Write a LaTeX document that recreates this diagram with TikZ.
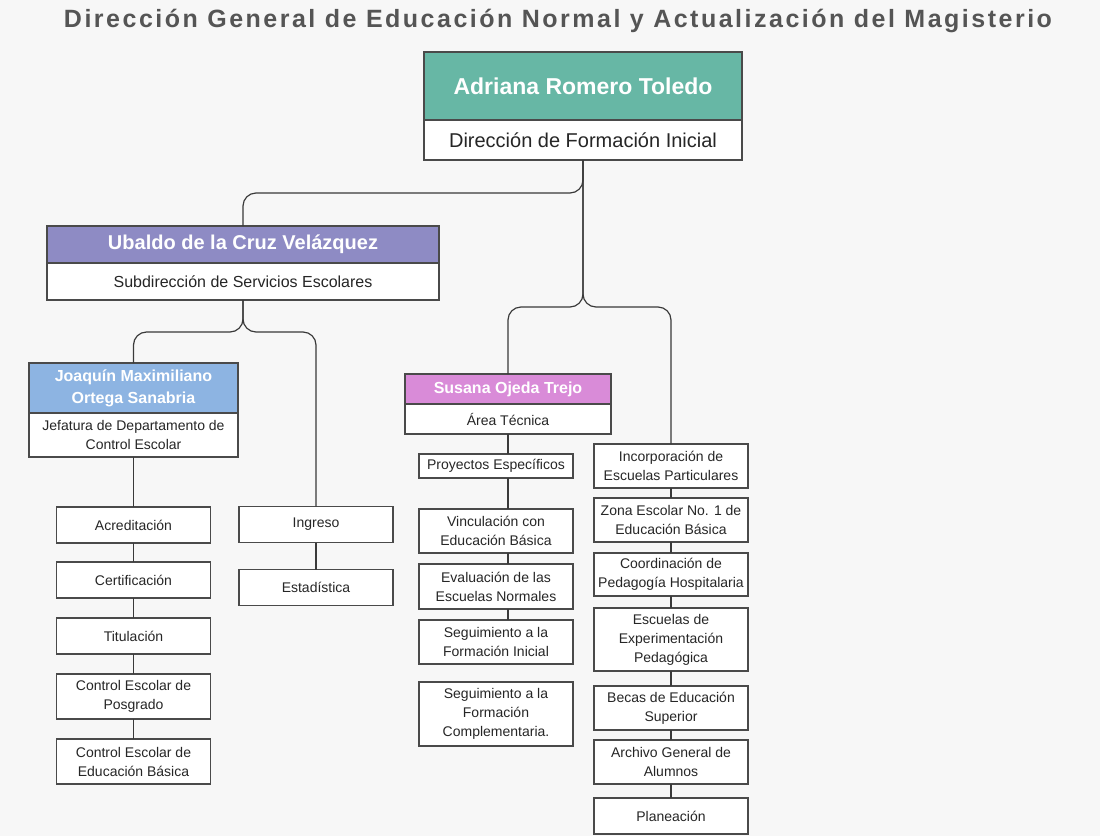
\documentclass[tikz,border=0pt]{standalone}
\usepackage{fontspec}
\setmainfont{Liberation Sans}
\newfontfamily\titlefont[LetterSpace=10]{Liberation Sans}
\usetikzlibrary{positioning}

\definecolor{bgc}{HTML}{F7F7F7}
\definecolor{titlec}{HTML}{555555}
\definecolor{boxline}{HTML}{4A4A4A}
\definecolor{linec}{HTML}{3A3A3A}
\definecolor{textc}{HTML}{262626}
\definecolor{tealh}{HTML}{67B7A5}
\definecolor{purpleh}{HTML}{8E8BC4}
\definecolor{blueh}{HTML}{8DB4E2}
\definecolor{pinkh}{HTML}{D98BD8}

\begin{document}
\begin{tikzpicture}[x=1pt, y=-1pt,
    head/.style={draw=boxline, line width=1.2pt, text=white, align=center, inner sep=2pt, outer sep=0pt},
    sub/.style={draw=boxline, line width=1.2pt, fill=white, text=textc, align=center, inner sep=2pt, outer sep=0pt},
    leaf/.style={sub, minimum width=154pt, minimum height=36pt, font=\fontsize{14}{19}\selectfont},
    link/.style={draw=linec, line width=1.2pt, rounded corners=13pt}]

    \useasboundingbox (0,0) rectangle (1100,836);
    \fill[bgc] (0,0) rectangle (1100,836);

    %define the title
    \node[font=\titlefont\bfseries\fontsize{25}{29}\selectfont, text=titlec] (title) at (558,21)
        {Dirección General de Educación Normal y Actualización del Magisterio};

    %define the heads
    \node[head, fill=tealh, minimum width=318pt, minimum height=68pt, font=\bfseries\fontsize{23}{27}\selectfont] (adriana) at (583,86) {Adriana Romero Toledo};
    \node[sub, minimum width=318pt, minimum height=40pt, font=\fontsize{20}{24}\selectfont] (dfi) [below=0pt of adriana] {Dirección de Formación Inicial};

    \node[head, fill=purpleh, minimum width=392pt, minimum height=37pt, font=\bfseries\fontsize{20}{24}\selectfont] (ubaldo) at (243,244.5) {Ubaldo de la Cruz Velázquez};
    \node[sub, minimum width=392pt, minimum height=37pt, font=\fontsize{16}{20}\selectfont] (sse) [below=0pt of ubaldo] {Subdirección de Servicios Escolares};

    \node[head, fill=blueh, minimum width=209pt, minimum height=50pt, font=\bfseries\fontsize{16}{22}\selectfont] (joaq) at (133.5,388) {Joaquín Maximiliano\\Ortega Sanabria};
    \node[sub, minimum width=209pt, minimum height=44pt, font=\fontsize{14}{19}\selectfont] (jdce) [below=0pt of joaq] {Jefatura de Departamento de\\Control Escolar};

    \node[head, fill=pinkh, minimum width=206pt, minimum height=30pt, font=\bfseries\fontsize{16}{20}\selectfont] (susana) at (508,389) {Susana Ojeda Trejo};
    \node[sub, minimum width=206pt, minimum height=30pt, font=\fontsize{14}{19}\selectfont] (ats) [below=0pt of susana] {Área Técnica};

    %define the control escolar boxes
    \node[leaf] (acr) [below=50pt of jdce] {Acreditación};
    \node[leaf] (cert) [below=19pt of acr] {Certificación};
    \node[leaf] (tit) [below=20pt of cert] {Titulación};
    \node[leaf, minimum height=45pt] (pos) [below=20pt of tit] {Control Escolar de\\Posgrado};
    \node[leaf, minimum height=45pt] (bas) [below=20pt of pos] {Control Escolar de\\Educación Básica};

    \node[leaf] (ing) at (316,524.5) {Ingreso};
    \node[leaf] (est) [below=27pt of ing] {Estadística};

    %define the area tecnica boxes
    \node[leaf, minimum height=24pt] (proy) at (496,466) {Proyectos Específicos};
    \node[leaf, minimum height=44pt] (vinc) [below=31pt of proy] {Vinculación con\\Educación Básica};
    \node[leaf, minimum height=45pt] (eval) [below=11pt of vinc] {Evaluación de las\\Escuelas Normales};
    \node[leaf, minimum height=44pt] (segini) [below=11pt of eval] {Seguimiento a la\\Formación Inicial};
    \node[leaf, minimum height=64pt] (segcomp) [below=18pt of segini] {Seguimiento a la\\Formación\\Complementaria.};

    %define the right column
    \node[leaf, minimum height=44pt] (incorp) at (671,466) {Incorporación de\\Escuelas Particulares};
    \node[leaf, minimum height=44pt] (zona) [below=10pt of incorp] {Zona Escolar No. 1 de\\Educación Básica};
    \node[leaf, minimum height=43pt] (coord) [below=11pt of zona] {Coordinación de\\Pedagogía Hospitalaria};
    \node[leaf, minimum height=63pt] (esc) [below=12pt of coord] {Escuelas de\\Experimentación\\Pedagógica};
    \node[leaf, minimum height=44pt] (becas) [below=15pt of esc] {Becas de Educación\\Superior};
    \node[leaf, minimum height=44pt] (arch) [below=10pt of becas] {Archivo General de\\Alumnos};
    \node[leaf] (plan) [below=14pt of arch] {Planeación};

    %define the links
    \coordinate (bus1) at (0,193);
    \coordinate (bus2) at (0,307);
    \coordinate (bus3) at (0,332);
    \draw[link] (dfi.south) |- (bus1 -| ubaldo.north) -- (ubaldo.north);
    \draw[link] (dfi.south) |- (bus2 -| susana.north) -- (susana.north);
    \draw[link] (dfi.south) |- (bus2 -| incorp.north) -- (incorp.north);
    \draw[link] (sse.south) |- (bus3 -| joaq.north) -- (joaq.north);
    \draw[link] (sse.south) |- (bus3 -| ing.north) -- (ing.north);

    \foreach \a/\b in {jdce/acr, acr/cert, cert/tit, tit/pos, pos/bas, ing/est,
        incorp/zona, zona/coord, coord/esc, esc/becas, becas/arch, arch/plan}
        \draw[link] (\a.south) -- (\a.south |- \b.north);
    \foreach \a/\b in {ats/proy, proy/vinc, vinc/eval, eval/segini}
        \draw[link] (\a.south -| ats.south) -- (ats.south |- \b.north);
\end{tikzpicture}
\end{document}
